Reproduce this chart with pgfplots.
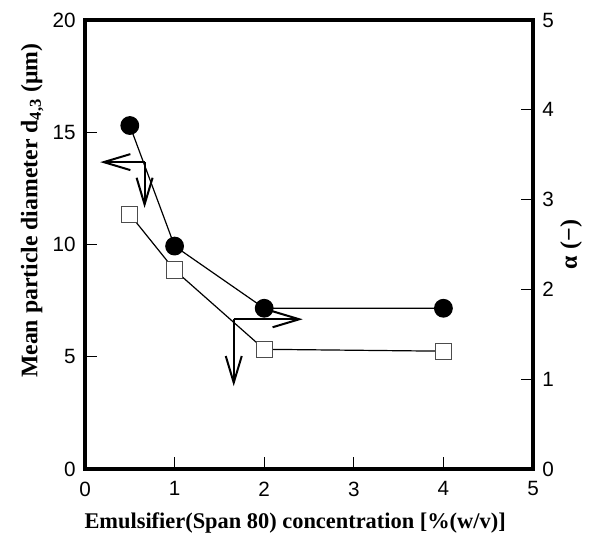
\documentclass[border=0pt]{standalone}
\usepackage{fontspec}
\setmainfont{Liberation Serif}
\newfontfamily\arial{Liberation Sans}
\usepackage{pgfplots}
\pgfplotsset{compat=1.18}
\usetikzlibrary{arrows.meta}

\pgfplotstableread{
x d
0.5 15.30
1   9.93
2   7.16
4   7.16
}\circles
\pgfplotstableread{
x a
0.5 2.835
1   2.215
2   1.333
4   1.312
}\squares

\begin{document}
\begin{tikzpicture}
\pgfplotsset{
  common/.style={
    scale only axis, width=336pt, height=336.75pt,
    xmin=0, xmax=5,
    tick align=inside,
    major tick length=9pt,
    every tick/.style={line width=1pt, black},
    axis line style={line width=2.5pt, line cap=rect},
    tick label style={font=\arial\fontsize{15.5}{18}\selectfont},
    /pgf/number format/assume math mode=true,
    label style={font=\bfseries\fontsize{16.8}{20}\selectfont},
  }
}
\begin{axis}[common,
  ymin=0, ymax=20,
  axis y line*=left,
  xtick={0,1,2,3,4,5}, ytick={0,5,10,15,20},
  xtick pos=bottom,
  xticklabel style={yshift=-6pt},
  yticklabel style={xshift=-3.5pt},
  xlabel={Emulsifier(Span 80) concentration [\%(w/v)]},
  ylabel={Mean particle diameter d\textsubscript{4,3} (μm)},
  xlabel style={at={(axis description cs:0.469,-0.12)}, anchor=center},
  ylabel style={at={(axis description cs:-0.118,0.575)}, anchor=center,
    font=\bfseries\fontsize{17.8}{20}\selectfont},
]
\coordinate (A) at (rel axis cs:0,0);
\coordinate (B) at (rel axis cs:1,1);
\addplot[black, line width=0.9pt, mark=*, mark size=6.6pt,
  mark options={fill=black, draw=black}] table[x=x,y=d]{\circles};
\draw[line width=1.5pt, -{Straight Barb[length=20pt,width=12pt,line width=1.5pt]}]
  (axis cs:0.665,13.67) -- (axis cs:0.17,13.67);
\draw[line width=1.5pt, -{Straight Barb[length=20pt,width=12pt,line width=1.5pt]}]
  (axis cs:0.665,13.67) -- (axis cs:0.665,11.63);
\draw[line width=1.5pt, -{Straight Barb[length=20pt,width=12pt,line width=1.5pt]}]
  (axis cs:1.66,6.67) -- (axis cs:2.43,6.67);
\draw[line width=1.5pt, -{Straight Barb[length=20pt,width=12pt,line width=1.5pt]}]
  (axis cs:1.66,6.67) -- (axis cs:1.66,3.69);
\end{axis}
\begin{axis}[common,
  ymin=0, ymax=5,
  axis y line*=right,
  axis x line=none,
  ytick={0,1,2,3,4,5},
  yticklabel style={xshift=3.5pt},
  ylabel={α (−)},
  ylabel style={at={(axis description cs:1.085,0.5)}, anchor=center,
    font=\bfseries\fontsize{18}{20}\selectfont},
]
\addplot[black, line width=0.9pt, mark=square*, mark size=6.1pt,
  mark options={fill=white, draw=black!70, line width=0.8pt}] table[x=x,y=a]{\squares};
\end{axis}
\pgfresetboundingbox
\path[use as bounding box] ([shift={(-63.75pt,-60.75pt)}]A) rectangle ([shift={(51pt,15pt)}]B);
\end{tikzpicture}
\end{document}
